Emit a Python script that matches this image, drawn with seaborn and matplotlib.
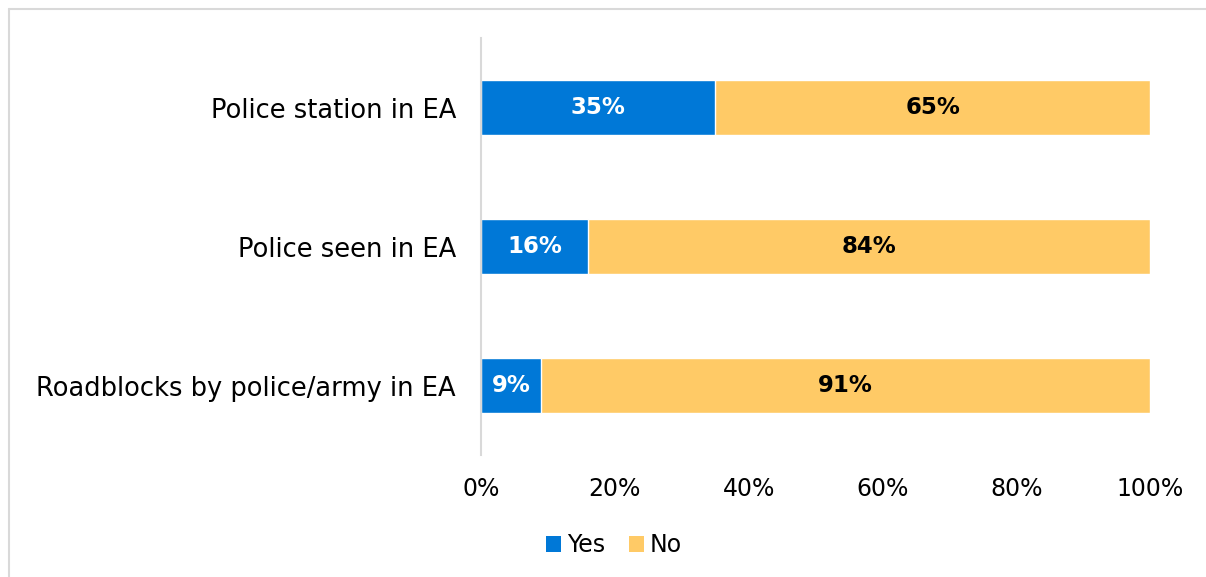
import matplotlib
matplotlib.use("Agg")
import matplotlib.pyplot as plt
from matplotlib.lines import Line2D
from matplotlib.patches import Patch
import seaborn as sns
import pandas as pd

categories = ["Police station in EA", "Police seen in EA", "Roadblocks by police/army in EA"]
yes_values = [35, 16, 9]
no_values = [65, 84, 91]
tick_values = [0, 20, 40, 60, 80, 100]
tick_labels = ["0%", "20%", "40%", "60%", "80%", "100%"]

YES_COLOR = "#0078D7"
NO_COLOR = "#FFCA66"

sns.set_theme(style="white")
plt.rcParams["font.family"] = ["DejaVu Sans"]
plt.rcParams["text.color"] = "black"

df = pd.DataFrame({
    "category": categories,
    "yes": yes_values,
    "no": no_values,
})
df["total"] = df["yes"] + df["no"]

fig = plt.figure(figsize=(12.06, 5.77), dpi=100)
ax = fig.add_axes([481 / 1206, 1 - 455 / 577, (1150 - 481) / 1206, (455 - 38) / 577])

# stacked bars: full (yes + no) in yellow, yes segment on top in blue
sns.barplot(data=df, x="total", y="category", color=NO_COLOR, orient="h",
            width=0.4, saturation=1, ax=ax)
sns.barplot(data=df, x="yes", y="category", color=YES_COLOR, orient="h",
            width=0.4, saturation=1, ax=ax)

for i, (y_val, n_val) in enumerate(zip(yes_values, no_values)):
    ax.text(y_val / 2, i, f"{y_val}%", ha="center", va="center",
            color="white", fontsize=16.5, fontweight="bold")
    ax.text(y_val + n_val / 2, i, f"{n_val}%", ha="center", va="center",
            color="black", fontsize=16.5, fontweight="bold")

ax.set_xlim(0, 100)
ax.set_ylim(2.5, -0.5)
ax.set_xticks(tick_values)
ax.set_xticklabels(tick_labels)
ax.tick_params(axis="x", length=0, pad=16, labelsize=17, labelcolor="black")
ax.tick_params(axis="y", length=0, pad=18, labelsize=18.5, labelcolor="black")
ax.set_xlabel("")
ax.set_ylabel("")
for side in ["top", "right", "bottom"]:
    ax.spines[side].set_visible(False)
ax.spines["left"].set_color("#D9D9D9")
ax.spines["left"].set_linewidth(1.5)
ax.grid(False)

handles = [Patch(facecolor=YES_COLOR, edgecolor="none"),
           Patch(facecolor=NO_COLOR, edgecolor="none")]
fig.legend(handles, ["Yes", "No"], loc="center", bbox_to_anchor=(614 / 1206, 1 - 545 / 577),
           ncol=2, frameon=False, fontsize=17, handlelength=0.65, handleheight=0.65,
           handletextpad=0.25, columnspacing=1.0)

# chart frame: top and left edges
fig.add_artist(Line2D([9 / 1206, 1], [1 - 9 / 577, 1 - 9 / 577], transform=fig.transFigure,
                      color="#D9D9D9", linewidth=1.5))
fig.add_artist(Line2D([9 / 1206, 9 / 1206], [0, 1 - 9 / 577], transform=fig.transFigure,
                      color="#D9D9D9", linewidth=1.5))

fig.savefig("out.png", dpi=100, facecolor="white")
